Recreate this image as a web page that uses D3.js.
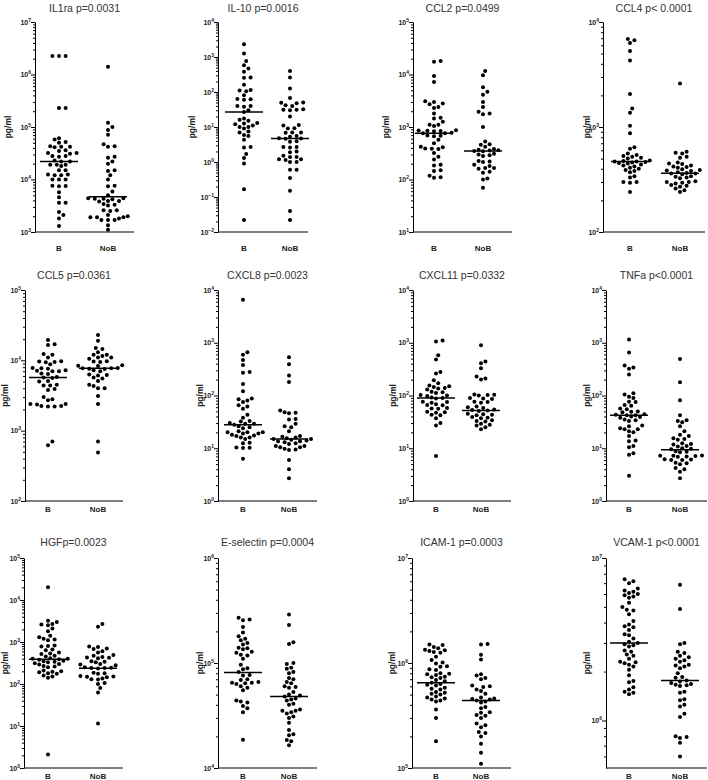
<!DOCTYPE html>
<html><head><meta charset="utf-8">
<script src="https://cdn.jsdelivr.net/npm/d3@7"></script>
<style>body{margin:0;background:#fff}svg{display:block}text{font-family:"Liberation Sans",Arial,sans-serif}</style>
</head><body><svg id="c" width="708" height="780"></svg>
<script>
// ---------------- DATA ----------------
const titles = ["IL1ra p=0.0031","IL-10 p=0.0016","CCL2 p=0.0499","CCL4 p< 0.0001",
  "CCL5 p=0.0361","CXCL8 p=0.0023","CXCL11 p=0.0332","TNFa p<0.0001",
  "HGFp=0.0023","E-selectin p=0.0004","ICAM-1 p=0.0003","VCAM-1 p<0.0001"];
const categories = ["B","NoB"];
const yLabel = "pg/ml";
// y-axis domains
const yMin = [1e3, 1e-2, 1e1, 1e2, 1e2, 1e0, 1e0, 1e0, 1e0, 1e4, 1e5, 5.1e5];
const yMax = [1e7, 1e4, 1e5, 1e4, 1e5, 1e4, 1e4, 1e4, 1e5, 1e6, 1e7, 1e7];
// medians
const medianB   = [2.2e4, 27, 760, 470, 5.7e3, 28, 90, 42, 390, 8.1e4, 6.5e5, 3.0e6];
const medianNoB = [4.7e3, 4.7, 350, 363, 7.7e3, 15, 52, 9.4, 236, 4.8e4, 4.4e5, 1.76e6];

const il1raB = [2.26e6,2.26e6,2.26e6,2.3e5,2.3e5,6.1e4,5.8e4,5.2e4,5.0e4,4.3e4,4.2e4,4.1e4,4.2e4,3.6e4,3.5e4,3.2e4,3.1e4,3.2e4,2.8e4,2.7e4,2.8e4,2.3e4,2.2e4,2.2e4,1.9e4,1.8e4,1.9e4,1.9e4,1.5e4,1.5e4,1.25e4,1.2e4,1.2e4,1.25e4,1.0e4,1.0e4,1.0e4,7.6e3,7.5e3,7.4e3,5.7e3,4.6e3,3.6e3,3.6e3,2.4e3,2.1e3,1.8e3,1.3e3];
const il1raNoB = [1.4e6,1.2e5,1.0e5,8.8e4,7.1e4,4.7e4,4.3e4,4.2e4,2.7e4,2.6e4,2.2e4,2.0e4,1.5e4,1.45e4,1.2e4,1.0e4,7.6e3,7.4e3,5.9e3,5.0e3,4.4e3,4.3e3,4.3e3,4.2e3,4.4e3,3.9e3,3.8e3,3.9e3,3.3e3,3.4e3,3.2e3,2.6e3,2.6e3,2.5e3,2.1e3,2.0e3,1.9e3,1.9e3,1.8e3,1.9e3,1.7e3,1.7e3,1.7e3,1.35e3,1.1e3];
const il10B = [2300,1250,770,580,470,380,260,255,160,115,110,105,81,62,60,63,40,38,40,30,27,17.6,16,15,13,12.5,12,11,10,10,9,7.4,7,5.9,5.5,4.3,2.7,2.6,1.7,1.3,0.9,0.167,0.022];
const il10NoB = [400,260,125,67,50,49,48,42,40,32,31,31,30,20,11.4,11,9.2,9,7,7,6.8,5.5,5.3,4.8,4.7,4.6,3.9,3.8,2.7,2.7,2.6,2,1.9,1.5,1.4,1.4,1.2,1.2,1.15,1.0,1.0,0.6,0.6,0.35,0.15,0.04,0.022];
const ccl2B = [18000,17500,9400,7200,3100,3000,2800,2700,2400,2300,1800,1500,1450,1260,1100,1100,1050,870,860,850,840,830,780,760,760,690,680,670,570,490,420,410,390,380,385,320,270,240,190,185,150,145,118,110,108];
const ccl2NoB = [11600,9700,5700,4700,4100,3000,2400,1950,1800,1750,1000,530,470,460,420,380,370,360,355,350,345,310,300,290,280,225,220,215,190,180,165,160,165,140,135,105,100,70];
const ccl4B = [6900,6700,6300,5300,4300,2060,1500,1370,1030,870,640,620,560,540,530,520,510,500,480,475,470,470,465,460,455,450,440,430,420,410,400,390,380,370,340,330,300,300,295,240];
const ccl4NoB = [2600,580,570,560,520,510,460,450,445,430,420,415,410,395,390,385,380,370,365,360,360,355,340,335,330,325,305,300,300,295,290,280,275,270,260,250,240];
const ccl5B = [19500,17000,16500,12300,12000,11000,9700,9600,9500,9400,8800,7800,7700,7600,7200,7100,7000,7000,6500,6400,5800,5700,5600,5100,5000,4500,4400,4400,3900,3800,3000,2800,2700,2400,2350,2400,2250,2200,2200,2250,700,620];
const ccl5NoB = [23000,19000,15000,14500,13000,12000,12000,11500,11000,11000,10500,9700,9600,9500,8500,8400,8300,7800,7700,7700,7600,7500,7200,7000,6300,6200,6100,5700,5500,5100,4500,4300,4000,4000,3100,2400,700,490];
const cxcl8B = [6500,660,590,470,380,280,270,166,120,88,85,80,75,65,62,56,43,38,33,32,30,29,29,28,26,25,24,21,20,20,20,19,19,18,17.5,17,16,16,15,12.7,12.5,10.3,10.2,10.1,6.3];
const cxcl8NoB = [530,390,240,180,52,48,47,46,36,35,29,26,25,21,17,16.5,16,15.5,15,15,14.5,14,13.5,13.5,13,12.5,12,11,11,10.5,10.5,9.8,9.5,9.3,6,4,2.7];
const cxcl11B = [1100,1060,580,480,280,260,195,170,155,150,145,138,135,130,118,115,112,102,100,98,92,90,88,76,75,73,68,66,65,58,57,56,49,48,47,43,42,37,30,27,7.1];
const cxcl11NoB = [900,440,410,330,230,210,200,105,103,102,100,90,88,86,76,75,73,62,60,58,54,53,52,51,45,44,43,42,39,38,37,34,33,32,29,28,27,25,23];
const tnfaB = [1150,650,370,340,320,250,110,105,95,90,76,75,66,64,57,55,50,49,48,44,43,42,42,40,39,38,35,34,33,27,26,24,23,23,21,20,17,14,13.5,11,10.5,8,7.5,3.0];
const tnfaNoB = [490,178,81,42,34,33,31,26,21,18,17,15.5,15,14.5,12.5,12,11.8,11,10.8,10,9.8,9.6,8.8,8.6,8.4,7.3,7.2,7.1,7,6.9,7.2,6.2,6.1,6,6,5.3,5.2,5,4.2,4,3.6,2.7];
const hgfB = [20000,3200,3000,2700,2600,2500,2100,1800,1400,1300,1200,1150,1100,830,800,780,660,640,560,530,520,470,450,410,400,400,390,380,360,350,340,330,310,300,290,270,260,250,210,200,195,190,180,175,160,150,140,2.1];
const hgfNoB = [2700,2300,780,760,700,680,600,560,490,470,440,430,420,410,350,340,330,300,290,280,250,245,240,240,235,185,180,175,155,150,148,145,135,130,128,105,100,80,63,11.5];
const eselB = [270000,260000,255000,220000,195000,180000,170000,165000,155000,150000,140000,138000,135000,128000,125000,120000,118000,110000,96000,89000,87000,82000,77000,76000,70000,69000,66000,65000,65000,64000,63000,60000,58000,55000,44000,43000,42000,39000,37000,34000,18600];
const eselNoB = [290000,230000,158000,152000,100000,98000,90000,88000,82000,80000,72000,70000,66000,64000,60000,59000,58000,53000,50000,49000,48000,46000,45000,44000,41000,40000,36000,35000,35000,34000,33000,31000,30000,27000,23000,21000,20500,18500,18000,16500];
const icamB = [1500000,1480000,1420000,1380000,1340000,1320000,1300000,1270000,1250000,1150000,1070000,1010000,990000,930000,920000,870000,860000,800000,790000,780000,770000,740000,730000,720000,690000,670000,650000,630000,620000,610000,580000,570000,560000,530000,520000,510000,500000,480000,470000,460000,450000,440000,430000,360000,300000,180000];
const icamNoB = [1520000,1500000,1200000,1080000,780000,760000,720000,700000,610000,600000,590000,560000,540000,510000,470000,460000,455000,450000,440000,430000,420000,380000,370000,340000,335000,320000,315000,300000,265000,255000,245000,220000,215000,200000,170000,140000,110000];
const vcamB = [7400000,7200000,7000000,6500000,6300000,6200000,6100000,6000000,5900000,5800000,5700000,5300000,5000000,4800000,4750000,4500000,4100000,3900000,3800000,3750000,3600000,3400000,3350000,3200000,3050000,3000000,2950000,2900000,2850000,2700000,2650000,2550000,2500000,2400000,2300000,2280000,2250000,2200000,2150000,2050000,1900000,1750000,1720000,1600000,1550000,1500000,1480000,1450000];
const vcamNoB = [6850000,4850000,3000000,2950000,2650000,2600000,2500000,2450000,2400000,2350000,2300000,2200000,2180000,2150000,2100000,1950000,1850000,1830000,1760000,1740000,1700000,1680000,1660000,1650000,1630000,1500000,1480000,1350000,1330000,1250000,1220000,1100000,1050000,800000,790000,780000,730000,600000];

const seriesB = [il1raB, il10B, ccl2B, ccl4B, ccl5B, cxcl8B, cxcl11B, tnfaB, hgfB, eselB, icamB, vcamB];
const seriesNoB = [il1raNoB, il10NoB, ccl2NoB, ccl4NoB, ccl5NoB, cxcl8NoB, cxcl11NoB, tnfaNoB, hgfNoB, eselNoB, icamNoB, vcamNoB];

// ---------------- LAYOUT ----------------
const rows = [{top:22,bottom:232,titleY:12,catY:251},{top:290,bottom:501,titleY:279,catY:512},{top:558,bottom:768,titleY:546,catY:779}];
const cols = [
  {ax:35,right:134,bx:59,nx:108,lx:8},{ax:218,right:308,bx:244,nx:290,lx:192},{ax:413,right:512,bx:434,nx:483,lx:386},{ax:603,right:705,bx:630,nx:680,lx:587},
  {ax:25,right:123,bx:48,nx:98,lx:5},{ax:218,right:317,bx:243,nx:289,lx:200},{ax:413,right:511,bx:436,nx:481,lx:393},{ax:606,right:707,bx:629,nx:680,lx:587},
  {ax:24,right:123,bx:48,nx:98,lx:5},{ax:218,right:317,bx:243,nx:289,lx:200},{ax:412,right:511,bx:436,nx:481,lx:392},{ax:606,right:707,bx:629,nx:680,lx:587}
];

const svg = d3.select("#c");
const R = 2.0, D = 4.5, STEP = 2.2, HALF = 19;

function swarm(vals, y, cx){
  const pts = vals.map(v=>({v, y:y(v)})).sort((a,b)=>b.y-a.y);
  const placed = [];
  for(const p of pts){
    for(let k=0;k<200;k++){
      const off = k===0?0:(k%2?1:-1)*Math.ceil(k/2)*STEP;
      const x = cx+off;
      if(placed.every(q=>(q.x-x)**2+(q.y-p.y)**2 >= D*D)){p.x=x;break;}
    }
    placed.push(p);
  }
  return placed;
}

titles.forEach((t,i)=>{
  const row = rows[Math.floor(i/4)], c = cols[i];
  const y = d3.scaleLog().domain([yMin[i], yMax[i]]).range([row.bottom, row.top]);
  const x = d3.scaleOrdinal().domain(categories).range([c.bx, c.nx]);
  const g = svg.append("g");

  g.append("text").attr("x",(c.ax+c.right)/2).attr("y",row.titleY).attr("text-anchor","middle")
    .attr("font-size",10.5).attr("fill","#333").text(t);

  const lo = Math.floor(Math.log10(yMin[i])), hi = Math.round(Math.log10(yMax[i]));
  const majors = [], minors = [];
  for(let e=lo;e<=hi;e++){
    const m = Math.pow(10,e);
    if(m>=yMin[i]*0.999 && m<=yMax[i]*1.001) majors.push(m);
    for(let k=2;k<=9;k++){const v=k*m; if(v>=yMin[i] && v<=yMax[i]) minors.push(v);}
  }
  const minorAxis = d3.axisLeft(y).tickValues(minors).tickSize(2).tickSizeOuter(0).tickFormat("");
  const majorAxis = d3.axisLeft(y).tickValues(majors).tickSize(4).tickSizeOuter(0).tickFormat("");
  const ga = g.append("g").attr("transform",`translate(${c.ax},0)`);
  ga.call(minorAxis);
  ga.append("g").call(majorAxis).select(".domain").remove();
  ga.selectAll("path,line").attr("stroke","#000").attr("stroke-width",1);

  majors.forEach(m=>{
    const e = Math.round(Math.log10(m));
    const tx = g.append("text").attr("x",c.ax-4).attr("y",y(m)+2.5).attr("text-anchor","end")
      .attr("font-size",7).attr("font-weight","bold").attr("fill","#222");
    tx.append("tspan").text("10");
    tx.append("tspan").attr("font-size",5).attr("dy",-3).text(e<0?"\u2212"+(-e):String(e));
  });

  g.append("line").attr("x1",c.ax).attr("x2",c.right).attr("y1",row.bottom).attr("y2",row.bottom)
    .attr("stroke","#000").attr("stroke-width",1.2);
  categories.forEach(cat=>{
    g.append("text").attr("x",x(cat)).attr("y",row.catY).attr("text-anchor","middle")
      .attr("font-size",8).attr("font-weight","bold").attr("fill","#222").text(cat);
  });

  g.append("text").attr("transform",`translate(${c.lx},${(row.top+row.bottom)/2}) rotate(-90)`)
    .attr("text-anchor","middle").attr("dy","0.35em").attr("font-size",8.5).attr("font-weight","bold")
    .attr("fill","#222").text(yLabel);

  [[seriesB[i],categories[0]],[seriesNoB[i],categories[1]]].forEach(([vals,cat])=>{
    const pts = swarm(vals, y, x(cat));
    g.append("g").selectAll("circle").data(pts).join("circle")
      .attr("cx",d=>d.x).attr("cy",d=>d.y).attr("r",R).attr("fill","#000");
  });

  [[medianB[i],categories[0]],[medianNoB[i],categories[1]]].forEach(([m,cat])=>{
    g.append("line").attr("x1",x(cat)-HALF).attr("x2",x(cat)+HALF).attr("y1",y(m)).attr("y2",y(m))
      .attr("stroke","#000").attr("stroke-width",1.5);
  });
});
</script></body></html>
